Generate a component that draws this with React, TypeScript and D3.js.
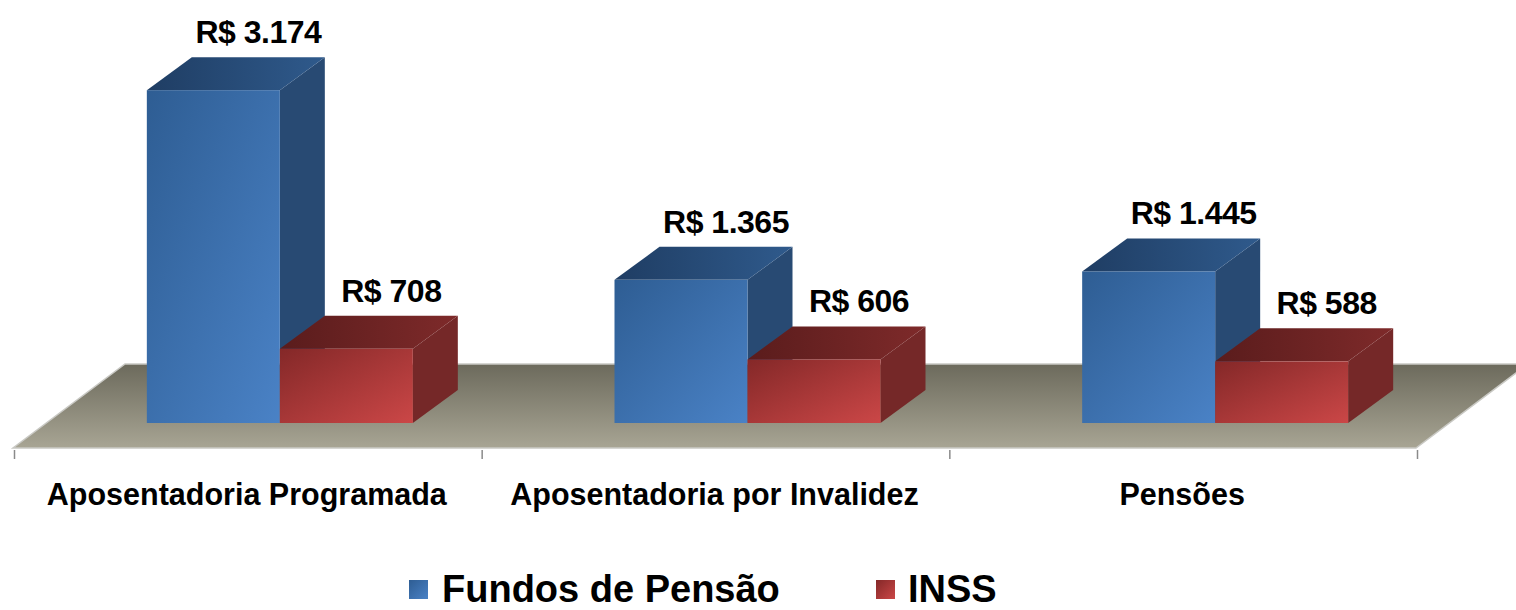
import React, { useEffect, useRef } from 'react';
import * as d3 from 'd3';

const categories = ['Aposentadoria Programada', 'Aposentadoria por Invalidez', 'Pensões'];
const seriesNames = ['Fundos de Pensão', 'INSS'];
const fundosValues = [3174, 1365, 1445];
const inssValues = [708, 606, 588];
const valueLabels = [
  ['R$ 3.174', 'R$ 1.365', 'R$ 1.445'],
  ['R$ 708', 'R$ 606', 'R$ 588'],
];

const palette = [
  { front: ['#2e5d93', '#4a82c6'], top: ['#1f3d63', '#2f5a8c'], side: '#284a73' },
  { front: ['#842828', '#cb4747'], top: ['#5a1c1c', '#7e2a2a'], side: '#752828' },
];

const App: React.FC = () => {
  const svgRef = useRef<SVGSVGElement | null>(null);

  useEffect(() => {
    const svg = d3.select(svgRef.current);
    svg.selectAll('*').remove();

    const width = 1516;
    const height = 610;
    svg.attr('width', width).attr('height', height);

    const floorFrontY = 448;
    const floorDepth = { dx: 112, dy: -84 };
    const barShift = { dx: 33, dy: -25 }; // where bar fronts sit on the floor
    const barDepth = { dx: 45, dy: -33 };
    const barBaseY = floorFrontY + barShift.dy;

    const x0 = d3.scaleBand<string>().domain(categories).range([13, 1416]).padding(0);
    const bw = x0.bandwidth();
    const barW = 133;
    const x1 = d3
      .scaleBand<string>()
      .domain(seriesNames)
      .range([bw / 2 - barW, bw / 2 + barW])
      .padding(0);
    const y = d3.scaleLinear().domain([0, 3500]).range([barBaseY, barBaseY - 367]);

    const defs = svg.append('defs');
    const floorGrad = defs
      .append('linearGradient')
      .attr('id', 'floorGrad')
      .attr('x1', 0).attr('y1', 0).attr('x2', 0).attr('y2', 1);
    floorGrad.append('stop').attr('offset', '0%').attr('stop-color', '#6c6a5c');
    floorGrad.append('stop').attr('offset', '100%').attr('stop-color', '#a8a594');

    palette.forEach((p, i) => {
      const fg = defs
        .append('linearGradient')
        .attr('id', `front${i}`)
        .attr('x1', 0).attr('y1', 0).attr('x2', 1).attr('y2', 1);
      fg.append('stop').attr('offset', '0%').attr('stop-color', p.front[0]);
      fg.append('stop').attr('offset', '100%').attr('stop-color', p.front[1]);
      const tg = defs
        .append('linearGradient')
        .attr('id', `top${i}`)
        .attr('x1', 0).attr('y1', 0).attr('x2', 1).attr('y2', 0);
      tg.append('stop').attr('offset', '0%').attr('stop-color', p.top[0]);
      tg.append('stop').attr('offset', '100%').attr('stop-color', p.top[1]);
    });

    // floor
    const fx0 = x0.range()[0];
    const fx1 = x0.range()[1];
    const floorPts: [number, number][] = [
      [fx0, floorFrontY],
      [fx1, floorFrontY],
      [fx1 + floorDepth.dx, floorFrontY + floorDepth.dy],
      [fx0 + floorDepth.dx, floorFrontY + floorDepth.dy],
    ];
    svg
      .append('polygon')
      .attr('points', floorPts.map((p) => p.join(',')).join(' '))
      .attr('fill', 'url(#floorGrad)')
      .attr('stroke', '#c9c9c4')
      .attr('stroke-width', 1.5);

    // ticks
    const tickXs = [...categories.map((c) => x0(c) as number), fx1];
    svg
      .selectAll('line.tick')
      .data(tickXs)
      .join('line')
      .attr('x1', (d) => d + 1.5)
      .attr('x2', (d) => d + 1.5)
      .attr('y1', floorFrontY + 2)
      .attr('y2', floorFrontY + 11)
      .attr('stroke', '#8a8a8a')
      .attr('stroke-width', 1.5);

    const seriesData = [fundosValues, inssValues];

    categories.forEach((cat, ci) => {
      seriesNames.forEach((s, si) => {
        const v = seriesData[si][ci];
        const left = (x0(cat) as number) + barShift.dx + (x1(s) as number);
        const right = left + x1.bandwidth();
        const top = y(v);
        const bottom = y(0);
        const g = svg.append('g');
        // side face
        g.append('polygon')
          .attr(
            'points',
            [
              [right, top],
              [right + barDepth.dx, top + barDepth.dy],
              [right + barDepth.dx, bottom + barDepth.dy],
              [right, bottom],
            ]
              .map((p) => p.join(','))
              .join(' ')
          )
          .attr('fill', palette[si].side);
        // top face
        g.append('polygon')
          .attr(
            'points',
            [
              [left, top],
              [left + barDepth.dx, top + barDepth.dy],
              [right + barDepth.dx, top + barDepth.dy],
              [right, top],
            ]
              .map((p) => p.join(','))
              .join(' ')
          )
          .attr('fill', `url(#top${si})`);
        // front face
        g.append('rect')
          .attr('x', left)
          .attr('y', top)
          .attr('width', right - left)
          .attr('height', bottom - top)
          .attr('fill', `url(#front${si})`);
        // value label
        svg
          .append('text')
          .attr('x', (left + right) / 2 + barDepth.dx)
          .attr('y', top + barDepth.dy - 14)
          .attr('text-anchor', 'middle')
          .attr('font-family', 'Liberation Sans, Arial, sans-serif')
          .attr('font-weight', 'bold')
          .attr('font-size', 32)
          .attr('letter-spacing', -0.5)
          .attr('fill', '#000')
          .text(valueLabels[si][ci]);
      });
    });

    // category labels
    svg
      .selectAll('text.cat')
      .data(categories)
      .join('text')
      .attr('class', 'cat')
      .attr('x', (d) => (x0(d) as number) + bw / 2)
      .attr('y', 505)
      .attr('text-anchor', 'middle')
      .attr('font-family', 'Liberation Sans, Arial, sans-serif')
      .attr('font-weight', 'bold')
      .attr('font-size', 30.5)
      .attr('fill', '#000')
      .text((d) => d);

    // legend
    const legendItems = [
      { name: seriesNames[0], sq: 409, tx: 442 },
      { name: seriesNames[1], sq: 876, tx: 908 },
    ];
    legendItems.forEach((it, i) => {
      svg
        .append('rect')
        .attr('x', it.sq)
        .attr('y', 580)
        .attr('width', 19)
        .attr('height', 19)
        .attr('fill', `url(#front${i})`);
      svg
        .append('text')
        .attr('x', it.tx)
        .attr('y', 602)
        .attr('font-family', 'Liberation Sans, Arial, sans-serif')
        .attr('font-weight', 'bold')
        .attr('font-size', 38)
        .attr('fill', '#000')
        .text(it.name);
    });
  }, []);

  return <svg ref={svgRef} style={{ position: 'absolute', left: 0, top: 0 }}></svg>;
};

export default App;
